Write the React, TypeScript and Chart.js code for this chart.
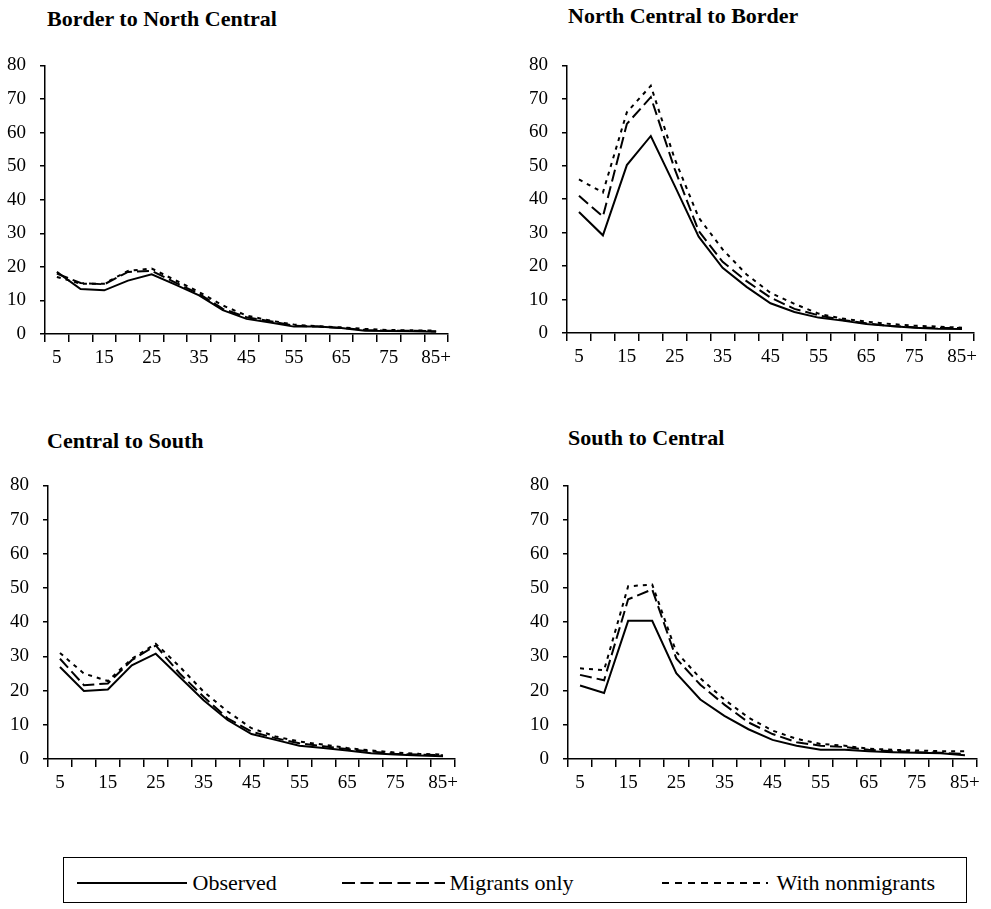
import React, { useEffect, useRef } from 'react';
import { Chart, registerables } from 'chart.js';

Chart.register(...registerables);

// ---------- data ----------
const AGE_GROUPS = ['5', '10', '15', '20', '25', '30', '35', '40', '45', '50', '55', '60', '65', '70', '75', '80', '85+'];
const SERIES_NAMES = ['Observed', 'Migrants only', 'With nonmigrants'];

const BNC_OBSERVED = [18.5, 13.4, 13.0, 15.9, 17.8, 14.7, 11.5, 7.1, 4.5, 3.4, 2.2, 2.2, 1.8, 1.0, 0.9, 0.8, 0.7];
const BNC_MIGRANTS = [18.0, 15.2, 14.8, 18.5, 18.8, 15.3, 12.0, 7.5, 5.0, 3.8, 2.5, 2.2, 1.8, 1.2, 1.0, 1.0, 0.8];
const BNC_NONMIGRANTS = [17.0, 15.0, 15.0, 18.8, 19.5, 16.0, 12.5, 8.5, 5.5, 4.0, 2.8, 2.3, 2.0, 1.5, 1.2, 1.1, 1.0];

const NCB_OBSERVED = [36.2, 29.2, 50.2, 58.9, 44.0, 28.8, 19.5, 13.8, 8.9, 6.3, 4.6, 3.7, 2.7, 2.1, 1.6, 1.3, 1.2];
const NCB_MIGRANTS = [41.0, 34.8, 62.5, 70.5, 49.0, 30.5, 21.3, 15.5, 10.6, 7.2, 5.3, 3.9, 2.9, 2.1, 1.7, 1.5, 1.5];
const NCB_NONMIGRANTS = [45.9, 42.0, 66.0, 73.9, 52.0, 34.5, 25.0, 17.5, 12.0, 8.7, 5.8, 4.3, 3.4, 2.7, 2.2, 1.9, 1.6];

const CS_OBSERVED = [26.9, 19.9, 20.3, 27.4, 30.8, 24.0, 17.2, 11.4, 7.3, 5.6, 3.9, 3.2, 2.5, 1.7, 1.3, 1.0, 0.8];
const CS_MIGRANTS = [29.3, 21.6, 22.1, 28.9, 33.2, 25.0, 18.2, 11.9, 8.0, 6.1, 4.6, 3.7, 2.9, 2.2, 1.5, 1.3, 1.1];
const CS_NONMIGRANTS = [31.0, 25.0, 22.8, 29.3, 33.7, 27.0, 19.7, 13.9, 9.0, 6.6, 5.1, 4.2, 3.2, 2.5, 1.9, 1.5, 1.3];

const SC_OBSERVED = [21.5, 19.3, 40.4, 40.4, 25.1, 17.4, 12.6, 8.7, 5.6, 3.9, 2.7, 2.7, 2.3, 2.0, 1.8, 1.7, 1.1];
const SC_MIGRANTS = [24.6, 23.0, 46.7, 49.6, 29.4, 21.7, 15.9, 10.7, 7.3, 4.9, 3.9, 3.5, 2.7, 2.3, 2.0, 1.8, 1.5];
const SC_NONMIGRANTS = [26.5, 26.0, 50.5, 51.0, 31.3, 23.6, 17.4, 12.1, 8.3, 5.9, 4.4, 3.9, 3.0, 2.7, 2.5, 2.3, 2.3];

const Y_MIN = 0;
const Y_MAX = 80;
const Y_STEP = 10;

// ---------- styles ----------
const FONT = '"Liberation Serif", "Times New Roman", serif';
const SERIES_DASH: number[][] = [[], [12, 5], [4, 5]];

type Box = { left: number; top: number; width: number; height: number };
type Area = { left: number; top: number; right: number; bottom: number };

interface PanelProps {
  title: string;
  series: number[][];
  box: Box;
  area: Area;
  titleLeft: number;
  titleTop: number;
}

function Panel({ title, series, box, area, titleLeft, titleTop }: PanelProps) {
  const ref = useRef<HTMLCanvasElement | null>(null);

  useEffect(() => {
    if (!ref.current) return;
    const chart = new Chart(ref.current, {
      type: 'line',
      data: {
        labels: AGE_GROUPS,
        datasets: series.map((d, i) => ({
          label: SERIES_NAMES[i],
          data: d,
          borderColor: '#000',
          backgroundColor: '#000',
          borderWidth: 2,
          borderDash: SERIES_DASH[i],
          pointRadius: 0,
          fill: false,
          tension: 0,
        })),
      },
      options: {
        responsive: false,
        animation: false,
        events: [],
        layout: {
          padding: {
            left: 0,
            top: area.top - box.top,
            right: box.left + box.width - area.right,
            bottom: 0,
          },
        },
        plugins: {
          legend: { display: false },
          tooltip: { enabled: false },
          title: { display: false },
        },
        scales: {
          x: {
            type: 'category',
            offset: true,
            grid: {
              offset: true,
              display: true,
              drawOnChartArea: false,
              drawTicks: true,
              tickLength: 8,
              color: '#000',
              lineWidth: 1.5,
            },
            border: { display: true, color: '#000', width: 1.5 },
            ticks: {
              autoSkip: false,
              maxRotation: 0,
              minRotation: 0,
              padding: 5,
              color: '#000',
              font: { family: FONT, size: 19 },
              callback: (_v: any, i: number) => (i % 2 === 0 ? AGE_GROUPS[i] : ''),
            },
            afterFit: (s: any) => {
              s.height = box.top + box.height - area.bottom;
            },
          },
          y: {
            min: Y_MIN,
            max: Y_MAX,
            grid: {
              drawOnChartArea: false,
              drawTicks: true,
              tickLength: 5,
              color: '#000',
              lineWidth: 1.5,
            },
            border: { display: true, color: '#000', width: 1.5 },
            ticks: {
              stepSize: Y_STEP,
              padding: 14,
              color: '#000',
              font: { family: FONT, size: 19 },
            },
            afterFit: (s: any) => {
              s.width = area.left - box.left;
            },
          },
        },
      } as any,
    });
    return () => chart.destroy();
  }, []);

  return (
    <>
      <div
        style={{
          position: 'absolute',
          left: titleLeft,
          top: titleTop,
          font: `bold 22px ${FONT}`,
          lineHeight: '22px',
          whiteSpace: 'nowrap',
          color: '#000',
        }}
      >
        {title}
      </div>
      <canvas
        ref={ref}
        width={box.width}
        height={box.height}
        style={{ position: 'absolute', left: box.left, top: box.top, width: box.width, height: box.height }}
      />
    </>
  );
}

function LegendBox() {
  const sampleY = 26;
  const items = [
    { x1: 14, x2: 124, dash: '', tx: 130, name: SERIES_NAMES[0] },
    { x1: 279, x2: 382, dash: '13 5.5', tx: 387, name: SERIES_NAMES[1] },
    { x1: 599, x2: 705, dash: '7 6', tx: 714, name: SERIES_NAMES[2] },
  ];
  return (
    <div
      style={{
        position: 'absolute',
        left: 63,
        top: 857,
        width: 904,
        height: 46,
        boxSizing: 'border-box',
        border: '1.5px solid #000',
      }}
    >
      <svg width={904} height={46} style={{ position: 'absolute', left: -1.5, top: -1.5 }}>
        {items.map((it, i) => (
          <line
            key={i}
            x1={it.x1}
            x2={it.x2}
            y1={sampleY}
            y2={sampleY}
            stroke="#000"
            strokeWidth={2}
            strokeDasharray={it.dash || undefined}
          />
        ))}
      </svg>
      {items.map((it, i) => (
        <div
          key={i}
          style={{
            position: 'absolute',
            left: it.tx - 1.5,
            top: sampleY - 1.5 - 11,
            font: `22px ${FONT}`,
            lineHeight: '22px',
            whiteSpace: 'nowrap',
            color: '#000',
          }}
        >
          {it.name}
        </div>
      ))}
    </div>
  );
}

export default function App() {
  return (
    <div
      style={{
        position: 'absolute',
        left: 0,
        top: 0,
        width: 991,
        height: 909,
        overflow: 'hidden',
        background: '#fff',
      }}
    >
      <Panel
        title="Border to North Central"
        series={[BNC_OBSERVED, BNC_MIGRANTS, BNC_NONMIGRANTS]}
        box={{ left: 0, top: 40, width: 480, height: 340 }}
        area={{ left: 45, top: 62, right: 448, bottom: 334 }}
        titleLeft={47}
        titleTop={8}
      />
      <Panel
        title="North Central to Border"
        series={[NCB_OBSERVED, NCB_MIGRANTS, NCB_NONMIGRANTS]}
        box={{ left: 490, top: 40, width: 500, height: 340 }}
        area={{ left: 567, top: 57, right: 974, bottom: 333 }}
        titleLeft={568}
        titleTop={5}
      />
      <Panel
        title="Central to South"
        series={[CS_OBSERVED, CS_MIGRANTS, CS_NONMIGRANTS]}
        box={{ left: 0, top: 460, width: 480, height: 340 }}
        area={{ left: 48, top: 484, right: 455, bottom: 759 }}
        titleLeft={47}
        titleTop={430}
      />
      <Panel
        title="South to Central"
        series={[SC_OBSERVED, SC_MIGRANTS, SC_NONMIGRANTS]}
        box={{ left: 490, top: 460, width: 500, height: 340 }}
        area={{ left: 568, top: 481, right: 977, bottom: 759 }}
        titleLeft={568}
        titleTop={427}
      />
      <LegendBox />
    </div>
  );
}
